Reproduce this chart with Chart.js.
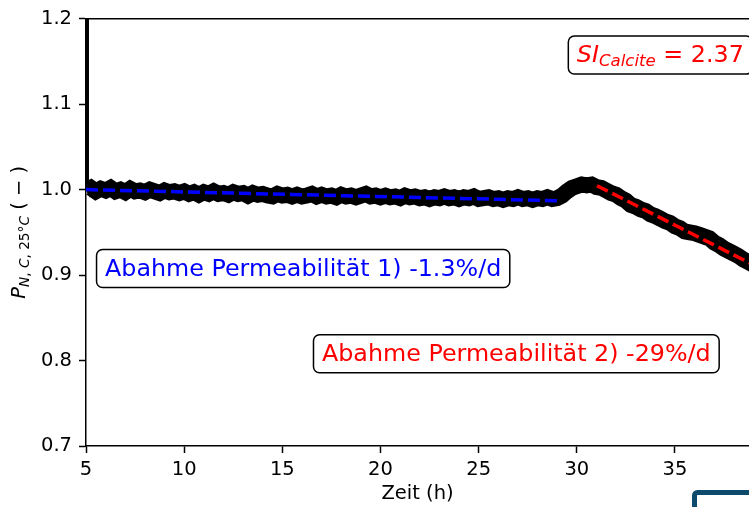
<!DOCTYPE html>
<html>
<head>
<meta charset="utf-8">
<script src="https://cdn.jsdelivr.net/npm/chart.js@4.4.1/dist/chart.umd.min.js"></script>
<style>
html, body { margin: 0; padding: 0; background: #fff; overflow: hidden; }
canvas { display: block; }
</style>
</head>
<body>
<canvas id="permChart" width="749" height="507"></canvas>
<script>
// Messdaten (Zeit in h, normierte Permeabilität)
var times = [
  5, 5.25, 5.5, 5.75, 6, 6.25, 6.5, 6.75, 7, 7.25, 7.5, 7.75, 8, 8.25, 8.5, 8.75,
  9, 9.25, 9.5, 9.75, 10, 10.25, 10.5, 10.75, 11, 11.25, 11.5, 11.75, 12, 12.25, 12.5, 12.75,
  13, 13.25, 13.5, 13.75, 14, 14.25, 14.5, 14.75, 15, 15.25, 15.5, 15.75, 16, 16.25, 16.5, 16.75,
  17, 17.25, 17.5, 17.75, 18, 18.25, 18.5, 18.75, 19, 19.25, 19.5, 19.75, 20, 20.25, 20.5, 20.75,
  21, 21.25, 21.5, 21.75, 22, 22.25, 22.5, 22.75, 23, 23.25, 23.5, 23.75, 24, 24.25, 24.5, 24.75,
  25, 25.25, 25.5, 25.75, 26, 26.25, 26.5, 26.75, 27, 27.25, 27.5, 27.75, 28, 28.25, 28.5, 28.75,
  29, 29.25, 29.5, 29.75, 30, 30.25, 30.5, 30.75, 31, 31.25, 31.5, 31.75, 32, 32.25, 32.5, 32.75,
  33, 33.25, 33.5, 33.75, 34, 34.25, 34.5, 34.75, 35, 35.25, 35.5, 35.75, 36, 36.25, 36.5, 36.75,
  37, 37.25, 37.5, 37.75, 38, 38.25, 38.5, 38.75, 39
];
var permeability = [
  0.999, 1.002, 0.998, 1.001, 0.999, 1.002, 0.998, 1.000, 0.997, 1.001, 0.998, 0.999, 0.997, 1.000, 0.998, 0.996,
  0.999, 0.997, 0.998, 0.996, 0.998, 0.995, 0.997, 0.994, 0.997, 0.995, 0.998, 0.995, 0.996, 0.994, 0.997, 0.995,
  0.996, 0.993, 0.996, 0.994, 0.995, 0.993, 0.992, 0.995, 0.993, 0.994, 0.992, 0.994, 0.992, 0.993, 0.995, 0.992,
  0.994, 0.992, 0.993, 0.991, 0.994, 0.992, 0.993, 0.991, 0.993, 0.995, 0.992, 0.993, 0.991, 0.993, 0.991, 0.992,
  0.990, 0.993, 0.991, 0.992, 0.990, 0.991, 0.989, 0.991, 0.990, 0.992, 0.990, 0.991, 0.989, 0.991, 0.990, 0.992,
  0.989, 0.990, 0.991, 0.989, 0.990, 0.988, 0.990, 0.989, 0.991, 0.989, 0.990, 0.988, 0.990, 0.989, 0.991, 0.989,
  0.990, 0.993, 0.998, 1.002, 1.004, 1.006, 1.005, 1.006, 1.003, 1.002, 0.999, 0.996, 0.994, 0.990, 0.987, 0.982,
  0.980, 0.977, 0.975, 0.971, 0.969, 0.966, 0.963, 0.961, 0.957, 0.955, 0.951, 0.950, 0.949, 0.947, 0.945, 0.943,
  0.938, 0.935, 0.931, 0.928, 0.925, 0.922, 0.918, 0.915, 0.912
];
// Anfangsspitze
var spikeTimes = [5.05, 5.05];
var spikeValues = [0.999, 1.25];
// Lineare Fits
var fit1Times = [5, 29.0];
var fit1Values = [1.0, 0.987];
var fit2Times = [31.03, 39.0];
var fit2Values = [1.0046, 0.9118];

var xTicks = [5, 10, 15, 20, 25, 30, 35];
var yTicks = [0.7, 0.8, 0.9, 1.0, 1.1, 1.2];

var FONT = "'DejaVu Sans', sans-serif";

function toXY(ts, vs) {
  return ts.map(function (t, i) { return { x: t, y: vs[i] }; });
}

function drawRuns(ctx, runs, x, y) {
  runs.forEach(function (r) {
    ctx.font = r.font;
    ctx.fillText(r.text, x, y + (r.dy || 0));
    x += ctx.measureText(r.text).width;
  });
}
function runsWidth(ctx, runs) {
  var w = 0;
  runs.forEach(function (r) { ctx.font = r.font; w += ctx.measureText(r.text).width; });
  return w;
}

var big = "23.8px " + FONT, bigIt = "italic 23.8px " + FONT, subIt = "italic 16.6px " + FONT;
var lab = "19.5px " + FONT, labIt = "italic 19.5px " + FONT, sub = "13.7px " + FONT, subLabIt = "italic 13.7px " + FONT;

var notes = [
  { runs: [{ text: "Abahme Permeabilität 1) -1.3%/d", font: big }], x: 5.97, y: 0.9076, color: "#0000ff" },
  { runs: [{ text: "Abahme Permeabilität 2) -29%/d", font: big }], x: 17.02, y: 0.808, color: "#ff0000" },
  { runs: [{ text: "SI", font: bigIt }, { text: "Calcite", font: subIt, dy: 4 }, { text: " = 2.37", font: big }], x: 30.0, y: 1.1576, color: "#ff0000" }
];

var decor = {
  id: "decor",
  afterDatasetsDraw: function (chart) {
    var ctx = chart.ctx, xs = chart.scales.x, ys = chart.scales.y;
    ctx.save();
    notes.forEach(function (n) {
      var px = xs.getPixelForValue(n.x), py = ys.getPixelForValue(n.y);
      var w = runsWidth(ctx, n.runs);
      ctx.beginPath();
      ctx.roundRect(px - 8.5, py - 19, w + 17, 38, 6);
      ctx.fillStyle = "#fff";
      ctx.fill();
      ctx.lineWidth = 1.5;
      ctx.strokeStyle = "#000";
      ctx.stroke();
      ctx.fillStyle = n.color;
      ctx.textBaseline = "alphabetic";
      ctx.textAlign = "left";
      drawRuns(ctx, n.runs, px, py + 7);
    });
    ctx.restore();
  },
  afterDraw: function (chart) {
    var ctx = chart.ctx, a = chart.chartArea;
    ctx.save();
    // obere Achsenlinie
    ctx.strokeStyle = "#000";
    ctx.lineWidth = 1.5;
    ctx.beginPath();
    ctx.moveTo(a.left, a.top);
    ctx.lineTo(a.right, a.top);
    ctx.stroke();
    // y-Beschriftung
    var runs = [
      { text: "P", font: labIt },
      { text: "N", font: subLabIt, dy: 4 },
      { text: ", ", font: sub, dy: 4 },
      { text: "C", font: subLabIt, dy: 4 },
      { text: ", 25°", font: sub, dy: 4 },
      { text: "C", font: subLabIt, dy: 4 },
      { text: " ( − )", font: lab }
    ];
    var w = runsWidth(ctx, runs);
    ctx.translate(20, (a.top + a.bottom) / 2);
    ctx.rotate(-Math.PI / 2);
    ctx.fillStyle = "#000";
    ctx.textBaseline = "alphabetic";
    drawRuns(ctx, runs, -w / 2, 5);
    ctx.restore();
    // Rahmenecke unten rechts
    ctx.save();
    ctx.strokeStyle = "#0e4a6c";
    ctx.lineWidth = 5;
    ctx.beginPath();
    ctx.roundRect(694.5, 492.5, 120, 60, 3);
    ctx.stroke();
    ctx.restore();
  }
};

var tickFont = { family: FONT, size: 19.5 };

new Chart(document.getElementById("permChart").getContext("2d"), {
  type: "line",
  data: {
    // Index 0 wird zuletzt gezeichnet -> Fits oben
    datasets: [
      { data: toXY(fit1Times, fit1Values), borderColor: "#0000ff", borderWidth: 3.5, borderDash: [12, 5], pointRadius: 0, clip: 0 },
      { data: toXY(fit2Times, fit2Values), borderColor: "#ff0000", borderWidth: 3.5, borderDash: [12, 5], pointRadius: 0, clip: 0 },
      { data: toXY(spikeTimes, spikeValues), borderColor: "#000", borderWidth: 4, pointRadius: 0, clip: 0 },
      { data: toXY(times, permeability), borderColor: "#000", borderWidth: 16, pointRadius: 0, tension: 0, borderJoinStyle: "miter", clip: 0 }
    ]
  },
  options: {
    responsive: false,
    animation: false,
    devicePixelRatio: 1,
    layout: { padding: { top: 13, right: 0, bottom: 0, left: 0 } },
    plugins: { legend: { display: false }, tooltip: { enabled: false } },
    scales: {
      x: {
        type: "linear",
        min: 5,
        max: 38.77,
        afterBuildTicks: function (s) { s.ticks = xTicks.map(function (v) { return { value: v }; }); },
        afterFit: function (s) { s.height = 61; },
        ticks: { color: "#000", font: tickFont, padding: 5, maxRotation: 0, callback: function (v) { return String(v); } },
        grid: { drawOnChartArea: false, drawTicks: true, tickLength: 7, tickWidth: 1.5, tickColor: "#000" },
        border: { display: true, color: "#000", width: 1.5 },
        title: { display: true, text: "Zeit (h)", color: "#000", font: tickFont, padding: { top: 0, bottom: 1 } }
      },
      y: {
        min: 0.7,
        max: 1.2,
        afterBuildTicks: function (s) { s.ticks = yTicks.map(function (v) { return { value: v }; }); },
        afterFit: function (s) { s.width = 86; },
        ticks: { color: "#000", font: tickFont, padding: 7, callback: function (v) { return v.toFixed(1); } },
        grid: { drawOnChartArea: false, drawTicks: true, tickLength: 7, tickWidth: 1.5, tickColor: "#000" },
        border: { display: true, color: "#000", width: 1.5 }
      }
    }
  },
  plugins: [decor]
});
</script>
</body>
</html>
